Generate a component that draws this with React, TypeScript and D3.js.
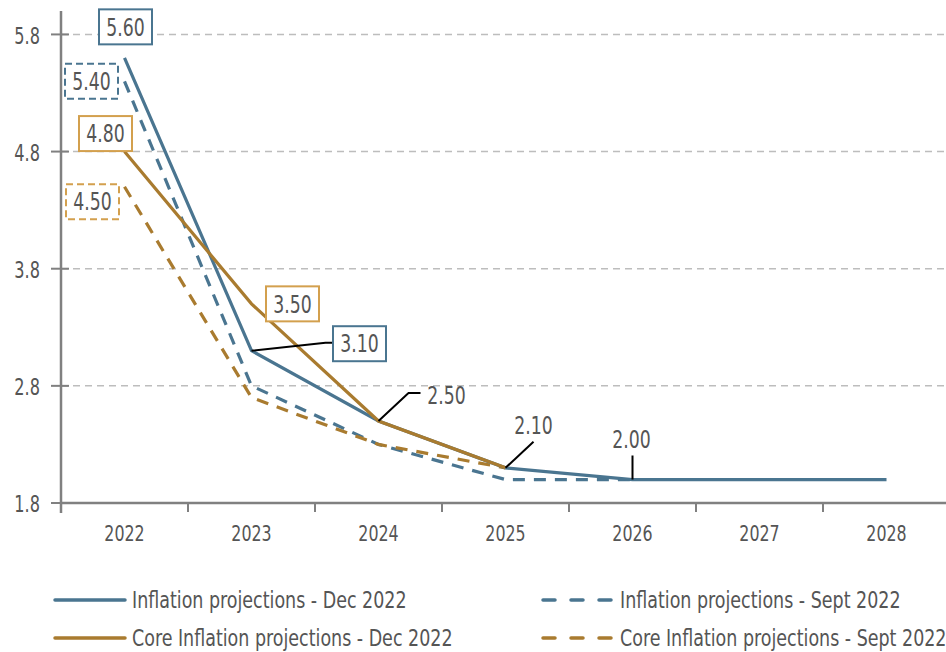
import React, { useEffect, useRef } from "react";
import * as d3 from "d3";

const years = ["2022", "2023", "2024", "2025", "2026", "2027", "2028"];
const yTicks = [1.8, 2.8, 3.8, 4.8, 5.8];

const inflationDec = [5.6, 3.1, 2.5, 2.1, 2.0, 2.0, 2.0];
const inflationSept = [5.4, 2.8, 2.3, 2.0, 2.0];
const coreDec = [4.8, 3.5, 2.5, 2.1];
const coreSept = [4.5, 2.7, 2.3, 2.1];

const BLUE = "#4a7590";
const GOLD = "#a97b2f";
const GOLD_LIGHT = "#d3a04e";
const TEXT = "#555555";
const FONT = "'DejaVu Sans Condensed', 'DejaVu Sans', sans-serif";

const series = [
  { name: "Inflation projections - Dec 2022", values: inflationDec, color: BLUE, dashed: false },
  { name: "Inflation projections - Sept 2022", values: inflationSept, color: BLUE, dashed: true },
  { name: "Core Inflation projections - Dec 2022", values: coreDec, color: GOLD, dashed: false },
  { name: "Core Inflation projections - Sept 2022", values: coreSept, color: GOLD, dashed: true },
];

// annotations: series index, year index, label offset from point, box style
const notes = [
  { s: 0, i: 0, dx: 1, dy: -31, box: BLUE, dash: false, leader: null },
  { s: 1, i: 0, dx: -33, dy: 0, box: BLUE, dash: true, leader: null },
  { s: 2, i: 0, dx: -19, dy: -18, box: GOLD_LIGHT, dash: false, leader: null },
  { s: 3, i: 0, dx: -32, dy: 15, box: GOLD_LIGHT, dash: true, leader: null },
  { s: 2, i: 1, dx: 41, dy: 0, box: GOLD_LIGHT, dash: false, leader: null },
  { s: 0, i: 1, dx: 108, dy: -7, box: BLUE, dash: false, leader: [[74, -8], [82, -8]] },
  { s: 0, i: 2, dx: 68, dy: -26, box: null, dash: false, leader: [[30, -28], [42, -28]] },
  { s: 0, i: 3, dx: 28, dy: -43, box: null, dash: false, leader: [[28, -26]] },
  { s: 0, i: 4, dx: -1, dy: -40, box: null, dash: false, leader: [[0, -24], [0, -2]] },
];

type Sel = d3.Selection<any, unknown, null, undefined>;

// condensed-looking text: draw at size, squeeze horizontally
function label(parent: Sel, x: number, y: number, txt: string, size: number, anchor: string, sx = 0.8) {
  return parent
    .append("text")
    .attr("transform", `translate(${x},${y}) scale(${sx},1)`)
    .attr("dy", "0.36em")
    .attr("text-anchor", anchor)
    .attr("fill", TEXT)
    .style("font-size", `${size}px`)
    .style("font-family", FONT)
    .text(txt);
}

export default function App() {
  const ref = useRef<SVGSVGElement>(null);
  const width = 946;
  const height = 652;

  useEffect(() => {
    const svg = d3.select(ref.current) as unknown as Sel;
    svg.selectAll("*").remove();

    const margin = { top: 11, bottom: 149, left: 61 };

    const x = d3
      .scaleBand()
      .domain(years)
      .range([margin.left, margin.left + 127 * years.length]);

    const y = d3
      .scaleLinear()
      .domain([1.8, 6.0])
      .range([height - margin.bottom, margin.top]);

    const px = (i: number) => (x(years[i]) as number) + x.bandwidth() / 2;

    // grid lines
    svg.append("g")
      .selectAll("line")
      .data(yTicks.slice(1))
      .join("line")
      .attr("x1", margin.left)
      .attr("x2", width)
      .attr("y1", (d) => y(d))
      .attr("y2", (d) => y(d))
      .attr("stroke", "#bdbdbd")
      .attr("stroke-width", 1.5)
      .attr("stroke-dasharray", "7,5");

    // y axis
    const yg = svg.append("g");
    yg.append("line")
      .attr("x1", margin.left)
      .attr("x2", margin.left)
      .attr("y1", margin.top)
      .attr("y2", y(1.8) + 10)
      .attr("stroke", "#808080")
      .attr("stroke-width", 2.5);
    yTicks.forEach((t) => {
      yg.append("line")
        .attr("x1", margin.left - 10)
        .attr("x2", margin.left + 8)
        .attr("y1", y(t))
        .attr("y2", y(t))
        .attr("stroke", "#808080")
        .attr("stroke-width", 2);
      label(yg, 40, y(t) + 1, d3.format(".1f")(t), 23, "end", 0.78);
    });

    // x axis
    const xg = svg.append("g").attr("transform", `translate(0,${y(1.8)})`);
    xg.append("line")
      .attr("x1", margin.left)
      .attr("x2", width)
      .attr("stroke", "#808080")
      .attr("stroke-width", 2.5);
    years.forEach((d) => {
      xg.append("line")
        .attr("x1", x(d) as number)
        .attr("x2", x(d) as number)
        .attr("y1", 0)
        .attr("y2", 9)
        .attr("stroke", "#808080")
        .attr("stroke-width", 2);
      label(xg, (x(d) as number) + x.bandwidth() / 2, 30, d, 22, "middle", 0.8);
    });

    // lines
    const line = d3
      .line<number>()
      .x((_, i) => px(i))
      .y((d) => y(d));

    // dashed first, solid on top
    [1, 3, 0, 2].forEach((k) => {
      const s = series[k];
      svg.append("path")
        .datum(s.values)
        .attr("fill", "none")
        .attr("stroke", s.color)
        .attr("stroke-width", 3.2)
        .attr("stroke-dasharray", s.dashed ? "12,9" : null)
        .attr("d", line);
    });

    // annotations
    notes.forEach((n) => {
      const v = series[n.s].values[n.i];
      const cx = px(n.i);
      const cy = y(v);
      const g = svg.append("g");
      if (n.leader) {
        const pts = [[cx, cy], ...n.leader.map(([a, b]) => [cx + a, cy + b])];
        g.append("path")
          .attr("d", d3.line()(pts as [number, number][]))
          .attr("fill", "none")
          .attr("stroke", "#000")
          .attr("stroke-width", 2);
      }
      const tx = cx + n.dx;
      const ty = cy + n.dy;
      if (n.box) {
        g.append("rect")
          .attr("x", tx - 26.5)
          .attr("y", ty - 17.5)
          .attr("width", 53)
          .attr("height", 35)
          .attr("fill", "#fff")
          .attr("stroke", n.box)
          .attr("stroke-width", 2)
          .attr("stroke-dasharray", n.dash ? "7,4" : null);
      }
      label(g, tx, ty, d3.format(".2f")(v), 24, "middle", 0.8);
    });

    // legend
    const legendPos = [
      [55, 600],
      [543, 600],
      [55, 638],
      [543, 638],
    ];
    series.forEach((s, k) => {
      const [lx, ly] = legendPos[k];
      const g = svg.append("g").attr("transform", `translate(${lx},${ly})`);
      g.append("line")
        .attr("x1", 0)
        .attr("x2", 70)
        .attr("stroke", s.color)
        .attr("stroke-width", 3.5)
        .attr("stroke-linecap", "round")
        .attr("stroke-dasharray", s.dashed ? "12,16" : null);
      label(g as Sel, 77, 0, s.name, 23, "start", 0.845);
    });
  }, []);

  return (
    <svg
      ref={ref}
      width={width}
      height={height}
      style={{ position: "absolute", left: 0, top: 0, background: "#fff" }}
    />
  );
}
